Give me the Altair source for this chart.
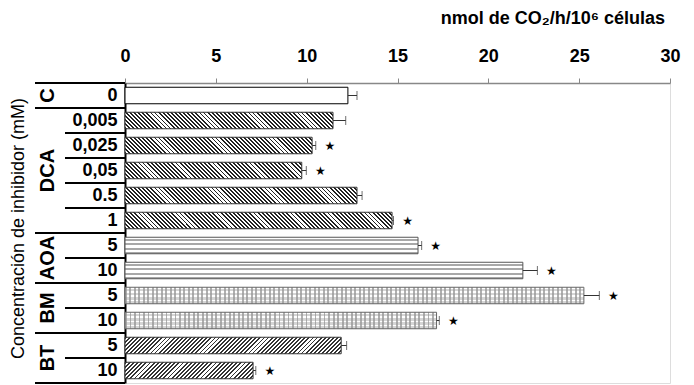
import math
import altair as alt
import pandas as pd

# ---- data ----
groups = ["C", "DCA", "DCA", "DCA", "DCA", "DCA", "AOA", "AOA", "BM", "BM", "BT", "BT"]
concs = ["0", "0,005", "0,025", "0,05", "0.5", "1", "5", "10", "5", "10", "5", "10"]
values = [12.27, 11.45, 10.3, 9.73, 12.77, 14.7, 16.13, 21.9, 25.26, 17.15, 11.9, 7.05]
errors = [0.5, 0.7, 0.2, 0.25, 0.28, 0.08, 0.2, 0.8, 0.85, 0.15, 0.3, 0.15]
significant = [False, False, True, True, False, True, True, True, True, True, False, True]
x_ticks = [0, 5, 10, 15, 20, 25, 30]
x_title = "nmol de CO\u2082/h/10\u2076 células"
y_title = "Concentración de inhibidor (mM)"

# ---- layout / style ----
FONT = "Liberation Sans"
PLOT_W, PLOT_H = 545, 300
BAND = 0.66
STEP = PLOT_H / len(groups)
BAR_H = STEP * BAND
PX = PLOT_W / 30.0

keys = [f"{g}|{c}" for g, c in zip(groups, concs)]
df = pd.DataFrame({"key": keys, "group": groups, "conc": concs, "value": values,
                   "err": errors, "sig": significant})
df["hi"] = df["value"] + df["err"]
first = [i == 0 or groups[i] != groups[i - 1] for i in range(len(groups))]
df["first"] = first

y_axis = alt.Axis(title=y_title, titleFontSize=18, titleFontWeight="normal", titleFont=FONT,
                  titleX=-107, titleY=145, titleAngle=270, titleBaseline="middle", titleAlign="center",
                  labelExpr="split(datum.label, '|')[1]", labelFontSize=18, labelFontWeight="bold",
                  labelColor="black", labelFont=FONT, labelPadding=8, ticks=False,
                  domainColor="black", domainWidth=2)
y_scale = alt.Scale(domain=keys, paddingInner=0, paddingOuter=0)
x_axis = alt.Axis(orient="top", values=x_ticks, title=None, labelFontSize=18, labelFontWeight="bold",
                  labelColor="black", labelFont=FONT, tickSize=5, tickColor="#888", domainColor="#888",
                  domainWidth=1.5, labelPadding=13, grid=False, labelFlush=False)
x_scale = alt.Scale(domain=[0, 30], nice=False)


def Y(**kw):
    return alt.Y("key:N", scale=y_scale, axis=y_axis, sort=keys, **kw)


def X(field):
    return alt.X(field, scale=x_scale, axis=x_axis)


def stripe_stops(n, frac, dark, light, dark_first=True):
    stops = []
    for i in range(n):
        a, b, c = i / n, (i + frac) / n, (i + 1) / n
        c1, c2 = (dark, light) if dark_first else (light, dark)
        stops += [alt.GradientStop(offset=round(a, 5), color=c1),
                  alt.GradientStop(offset=round(b, 5), color=c1),
                  alt.GradientStop(offset=round(b, 5), color=c2),
                  alt.GradientStop(offset=round(c, 5), color=c2)]
    return stops


def diag(w, h, kind, period=2.9, dark="#222", light="white", frac=0.45):
    r = h / w
    k = (1 + r) / (1 + r * r)
    n = max(1, round((w + h) / math.sqrt(2) / period))
    if kind == "back":
        return alt.LinearGradient(gradient="linear", x1=0, y1=1, x2=round(k, 5), y2=round(1 - k * r, 5),
                                  stops=stripe_stops(n, frac, dark, light))
    return alt.LinearGradient(gradient="linear", x1=0, y1=0, x2=round(k, 5), y2=round(k * r, 5),
                              stops=stripe_stops(n, frac, dark, light))


def horiz(h, period=4.2, dark="#a8a8a8", light="white", frac=0.5):
    n = max(1, round(h / period))
    return alt.LinearGradient(gradient="linear", x1=0, y1=0, x2=0, y2=1,
                              stops=stripe_stops(n, frac, dark, light, dark_first=False))


def vert(w, period=4.5, dark="#b0b0b0", light="white", frac=0.4):
    n = max(1, round(w / period))
    return alt.LinearGradient(gradient="linear", x1=0, y1=0, x2=1, y2=0,
                              stops=stripe_stops(n, frac, dark, light))


layers = []
for i, k in enumerate(keys):
    g = groups[i]
    w = values[i] * PX
    base = alt.Chart(df).transform_filter(alt.datum.key == k)
    enc = dict(x=X("value:Q"), y=Y())
    if g == "C":
        layers.append(base.mark_bar(fill="white", stroke="black", strokeWidth=1,
                                    height=alt.RelativeBandSize(BAND)).encode(**enc))
    elif g == "DCA":
        layers.append(base.mark_bar(fill=diag(w, BAR_H, "back"), stroke="#333", strokeWidth=1,
                                    height=alt.RelativeBandSize(BAND)).encode(**enc))
    elif g == "BT":
        layers.append(base.mark_bar(fill=diag(w, BAR_H, "fwd", dark="#333"), stroke="#333", strokeWidth=1,
                                    height=alt.RelativeBandSize(BAND)).encode(**enc))
    elif g == "AOA":
        layers.append(base.mark_bar(fill=horiz(BAR_H), stroke="#555", strokeWidth=1,
                                    height=alt.RelativeBandSize(BAND)).encode(**enc))
    else:  # BM
        layers.append(base.mark_bar(fill=vert(w), strokeWidth=0,
                                    height=alt.RelativeBandSize(BAND)).encode(**enc))
        layers.append(base.mark_bar(fill=horiz(BAR_H, period=4.5, dark="rgba(150,150,150,0.4)",
                                                light="rgba(255,255,255,0)", frac=0.4),
                                    stroke="#666", strokeWidth=1,
                                    height=alt.RelativeBandSize(BAND)).encode(**enc))

bars_base = alt.Chart(df)
err_rule = bars_base.mark_rule(color="#333", strokeWidth=1).encode(
    x=X("value:Q"), x2=alt.X2("hi:Q"), y=Y())
err_cap = bars_base.mark_tick(color="#333", thickness=1, size=9).encode(x=X("hi:Q"), y=Y())
stars = bars_base.transform_filter(alt.datum.sig).mark_text(
    text="\u2605", dx=14, fontSize=12, color="black", baseline="middle", font="DejaVu Sans").encode(
    x=X("hi:Q"), y=Y())

# table lines to the left of the axis
sep_major = bars_base.transform_filter(alt.datum.first).mark_rule(color="black", strokeWidth=2).encode(
    y=Y(bandPosition=0), x=alt.value(-90), x2=alt.value(0))
sep_minor = bars_base.transform_filter(~alt.datum.first).mark_rule(color="black", strokeWidth=2).encode(
    y=Y(bandPosition=0), x=alt.value(-60), x2=alt.value(0))
sep_bottom = bars_base.transform_filter(alt.datum.key == keys[-1]).mark_rule(color="black", strokeWidth=2).encode(
    y=Y(bandPosition=1), x=alt.value(-90), x2=alt.value(0))

# group labels
grp_rows = []
for g in dict.fromkeys(groups):
    idx = [i for i, gg in enumerate(groups) if gg == g]
    n = len(idx)
    anchor = keys[idx[n // 2]]
    grp_rows.append({"group": g, "key": anchor, "odd": n % 2 == 1})
gdf = pd.DataFrame(grp_rows)
gl_odd = alt.Chart(gdf).transform_filter(alt.datum.odd).mark_text(
    angle=270, fontSize=20, fontWeight="bold", font=FONT, baseline="middle", align="center").encode(
    text="group:N", y=Y(bandPosition=0.5), x=alt.value(-77))
gl_even = alt.Chart(gdf).transform_filter(~alt.datum.odd).mark_text(
    angle=270, fontSize=20, fontWeight="bold", font=FONT, baseline="middle", align="center").encode(
    text="group:N", y=Y(bandPosition=0), x=alt.value(-77))

title = alt.Chart(pd.DataFrame({"t": [x_title]})).mark_text(
    align="right", baseline="alphabetic", fontSize=18, fontWeight="bold", font=FONT).encode(
    text="t:N", x=alt.value(540), y=alt.value(-59))

chart = alt.layer(*layers, err_rule, err_cap, stars, sep_major, sep_minor, sep_bottom,
                  gl_odd, gl_even, title).properties(
    width=PLOT_W, height=PLOT_H,
    autosize=alt.AutoSizeParams(type="none"),
    padding={"left": 117, "top": 75, "right": 16, "bottom": 2},
).configure_view(stroke="#bbb", strokeWidth=1).configure(font=FONT)

chart.save("out.html", embed_options={"renderer": "svg", "actions": False})
